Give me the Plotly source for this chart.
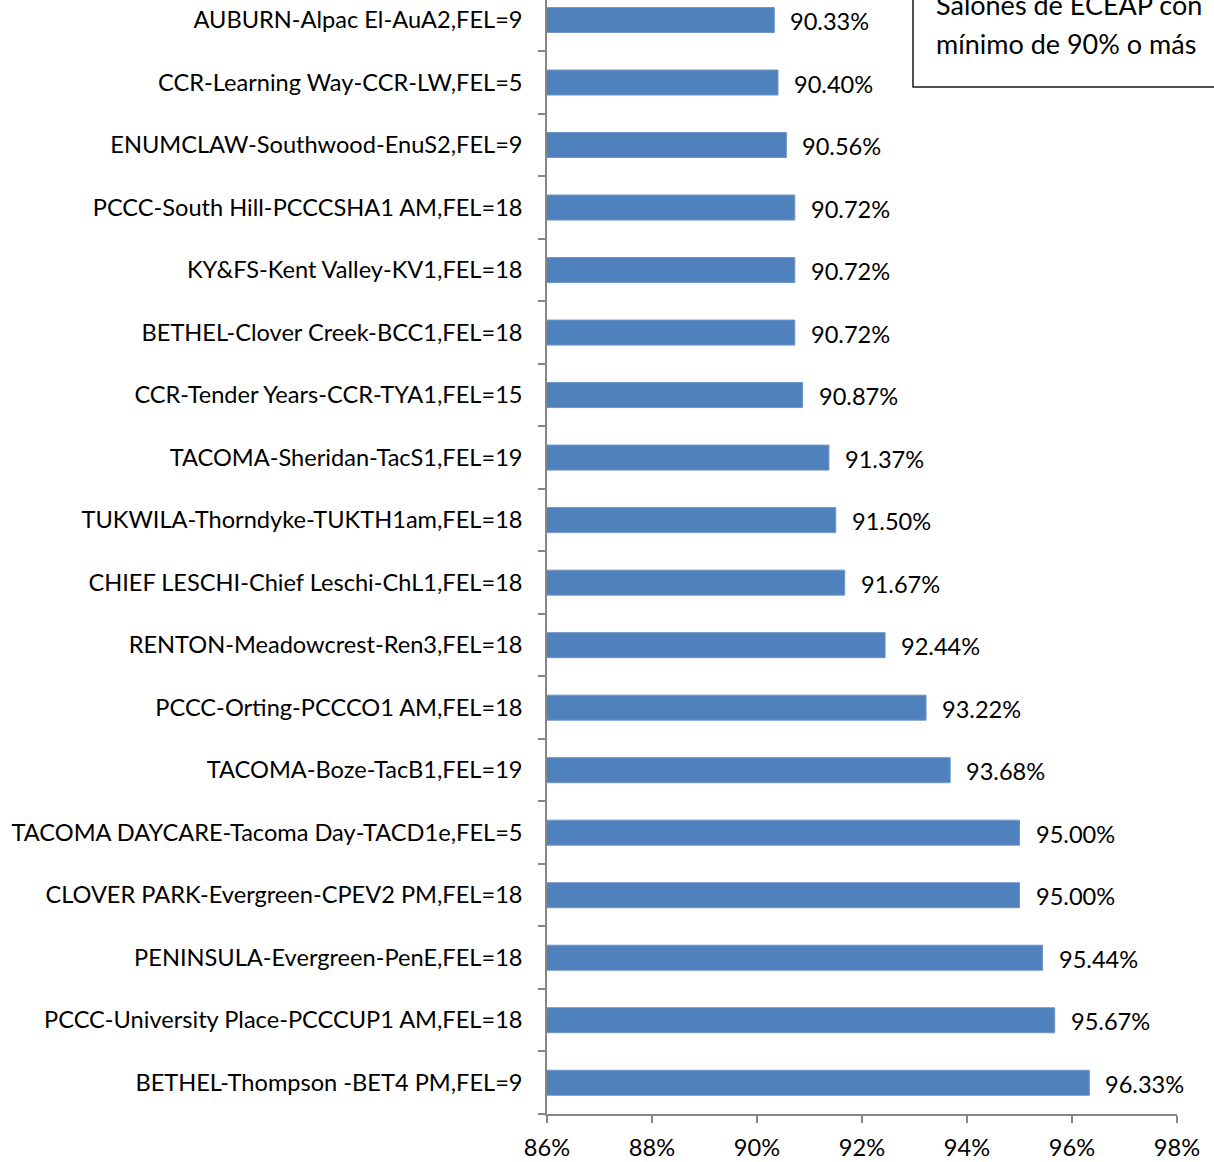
import plotly.graph_objects as go

# Top-to-bottom as shown in the chart
labels = [
    "AUBURN-Alpac El-AuA2,FEL=9",
    "CCR-Learning Way-CCR-LW,FEL=5",
    "ENUMCLAW-Southwood-EnuS2,FEL=9",
    "PCCC-South Hill-PCCCSHA1 AM,FEL=18",
    "KY&FS-Kent Valley-KV1,FEL=18",
    "BETHEL-Clover Creek-BCC1,FEL=18",
    "CCR-Tender Years-CCR-TYA1,FEL=15",
    "TACOMA-Sheridan-TacS1,FEL=19",
    "TUKWILA-Thorndyke-TUKTH1am,FEL=18",
    "CHIEF LESCHI-Chief Leschi-ChL1,FEL=18",
    "RENTON-Meadowcrest-Ren3,FEL=18",
    "PCCC-Orting-PCCCO1 AM,FEL=18",
    "TACOMA-Boze-TacB1,FEL=19",
    "TACOMA DAYCARE-Tacoma Day-TACD1e,FEL=5",
    "CLOVER PARK-Evergreen-CPEV2 PM,FEL=18",
    "PENINSULA-Evergreen-PenE,FEL=18",
    "PCCC-University Place-PCCCUP1 AM,FEL=18",
    "BETHEL-Thompson -BET4 PM,FEL=9",
]
values = [90.33, 90.40, 90.56, 90.72, 90.72, 90.72, 90.87, 91.37, 91.50,
          91.67, 92.44, 93.22, 93.68, 95.00, 95.00, 95.44, 95.67, 96.33]
x_ticks = [86, 88, 90, 92, 94, 96, 98]
box_lines = ["Salones de ECEAP con  el", "mínimo de 90% o más"]

cats = labels[::-1]
vals = values[::-1]

FONT = "Lato"
FS = 23.6
L, R, T, B = 547, 37, 0, 48
W, H = 1214, 1162
PW, PH = W - L - R, H - T - B

fig = go.Figure()
fig.add_trace(go.Bar(
    y=cats, x=vals, orientation="h",
    marker=dict(color="#4F81BD", line=dict(color="#6F95C8", width=1)),
    width=0.4, showlegend=False, hoverinfo="skip",
))

for c, v in zip(cats, vals):
    fig.add_annotation(x=v, y=c, xref="x", yref="y", text=f"{v:.2f}%",
                       showarrow=False, xanchor="left", xshift=14, yshift=-1,
                       font=dict(family=FONT, size=FS, color="black"))

fig.update_layout(
    width=W, height=H,
    margin=dict(l=L, r=R, t=T, b=B, autoexpand=False),
    plot_bgcolor="white", paper_bgcolor="white",
    font=dict(family=FONT, size=FS, color="black"),
    xaxis=dict(range=[86, 98], tickvals=x_ticks,
               ticktext=[f"{t}%" for t in x_ticks],
               showgrid=False, zeroline=False, showline=True,
               linecolor="#868686", linewidth=1.5, automargin=False,
               ticks="outside", ticklen=7, tickcolor="#868686", tickwidth=1.5,
               ticklabelstandoff=5),
    yaxis=dict(type="category", range=[-0.5, 17.32], automargin=False,
               showgrid=False, zeroline=False, showline=True,
               linecolor="#868686", linewidth=1.5,
               ticks="outside", tickson="boundaries", ticklen=7,
               tickcolor="#868686", tickwidth=1.5, ticklabelstandoff=18),
)

fig.add_shape(type="rect", xref="paper", yref="paper",
              x0=(913 - L) / PW, x1=1.2,
              y0=(H - B - 87) / PH, y1=1.1,
              line=dict(color="#1a1a1a", width=1.5), fillcolor="white")
for line, ypx in zip(box_lines, [5, 44]):
    fig.add_annotation(xref="paper", yref="paper",
                       x=(934 - L) / PW, y=(H - B - ypx) / PH,
                       text=line, showarrow=False,
                       xanchor="left", yanchor="middle", align="left",
                       font=dict(family=FONT, size=27, color="black"))

fig.write_html("out.html",
               config={"displayModeBar": False},
               post_script="document.body.style.margin='0';"
                           "document.body.style.overflow='hidden';")
